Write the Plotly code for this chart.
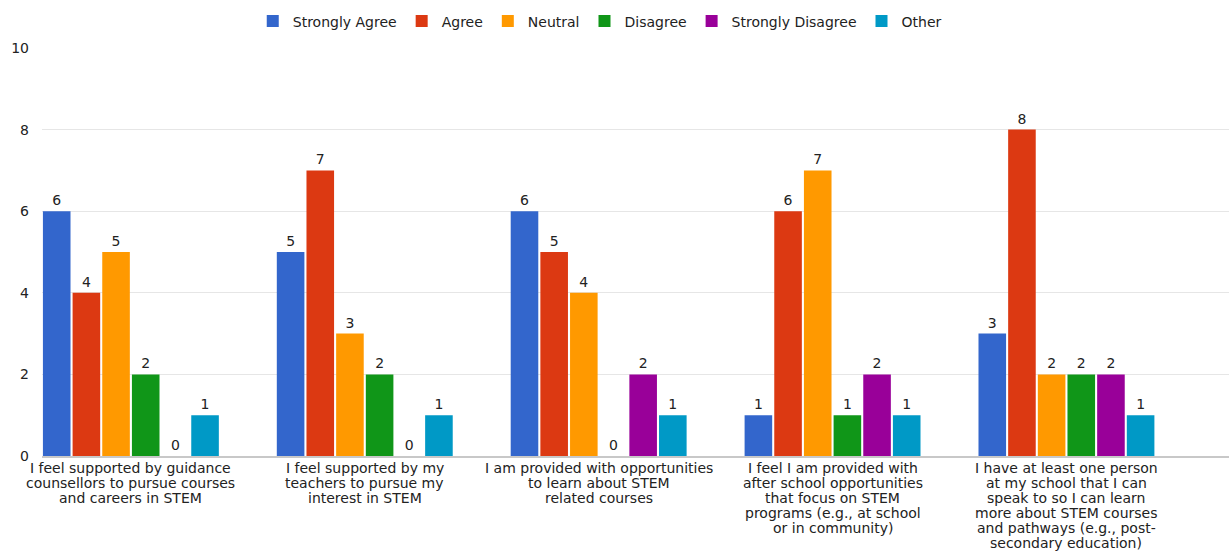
import plotly.graph_objects as go

# Survey statements (x-axis categories), one list entry per wrapped line
categories = [
    ["I feel supported by guidance", "counsellors to pursue courses", "and careers in STEM"],
    ["I feel supported by my", "teachers to pursue my", "interest in STEM"],
    ["I am provided with opportunities", "to learn about STEM", "related courses"],
    ["I feel I am provided with", "after school opportunities", "that focus on STEM",
     "programs (e.g., at school", "or in community)"],
    ["I have at least one person", "at my school that I can", "speak to so I can learn",
     "more about STEM courses", "and pathways (e.g., post-", "secondary education)"],
]

# Response counts per answer option
strongly_agree = [6, 5, 6, 1, 3]
agree = [4, 7, 5, 6, 8]
neutral = [5, 3, 4, 7, 2]
disagree = [2, 2, 0, 1, 2]
strongly_disagree = [0, 0, 2, 2, 2]
other = [1, 1, 1, 1, 1]

series = [
    ("Strongly Agree", strongly_agree, "#3366cc"),
    ("Agree", agree, "#dc3912"),
    ("Neutral", neutral, "#ff9900"),
    ("Disagree", disagree, "#109618"),
    ("Strongly Disagree", strongly_disagree, "#990099"),
    ("Other", other, "#0099c6"),
]

FONT = "DejaVu Sans, Arial, sans-serif"
TEXT = "#222222"
LINE_STEP = 14.9  # tight line spacing for the wrapped category labels

x_idx = list(range(len(categories)))

fig = go.Figure()
for name, vals, color in series:
    fig.add_trace(go.Bar(
        name=name,
        x=x_idx,
        y=vals,
        marker=dict(color=color, line=dict(width=0)),
        text=[str(v) for v in vals],
        textposition="outside",
        textfont=dict(family=FONT, size=14, color=TEXT),
        cliponaxis=False,
    ))

# Category labels, drawn line by line under each group
for i, lines in enumerate(categories):
    for j, line in enumerate(lines):
        fig.add_annotation(
            x=i, xref="x",
            y=0, yref="paper",
            yanchor="top",
            yshift=-(3 + j * LINE_STEP),
            text=line,
            showarrow=False,
            borderpad=0,
            font=dict(family=FONT, size=14, color=TEXT),
            align="center",
        )

fig.update_layout(
    width=1229,
    height=552,
    margin=dict(l=42, r=0, t=48, b=96, autoexpand=False),
    paper_bgcolor="white",
    plot_bgcolor="white",
    barmode="group",
    bargap=0.239,
    bargroupgap=0.07,
    font=dict(family=FONT, size=14, color=TEXT),
    legend=dict(
        orientation="h",
        xref="container",
        yref="container",
        x=0.488,
        xanchor="center",
        y=0.99,
        yanchor="top",
        font=dict(family=FONT, size=14, color=TEXT),
        itemwidth=30,
        tracegroupgap=0,
    ),
    showlegend=True,
)

fig.update_xaxes(
    range=[-0.38, 4.695],
    automargin=False,
    showgrid=False,
    showline=True,
    linecolor="#c8c8c8",
    linewidth=2,
    ticks="",
    showticklabels=False,
)

fig.update_yaxes(
    range=[0, 10],
    tickvals=[0, 2, 4, 6, 8, 10],
    automargin=False,
    showgrid=True,
    gridcolor="#e6e6e6",
    gridwidth=1,
    zeroline=False,
    showline=False,
    ticks="",
    ticklabelstandoff=12,
    tickfont=dict(family=FONT, size=14, color=TEXT),
)

fig.write_html("out.html")
